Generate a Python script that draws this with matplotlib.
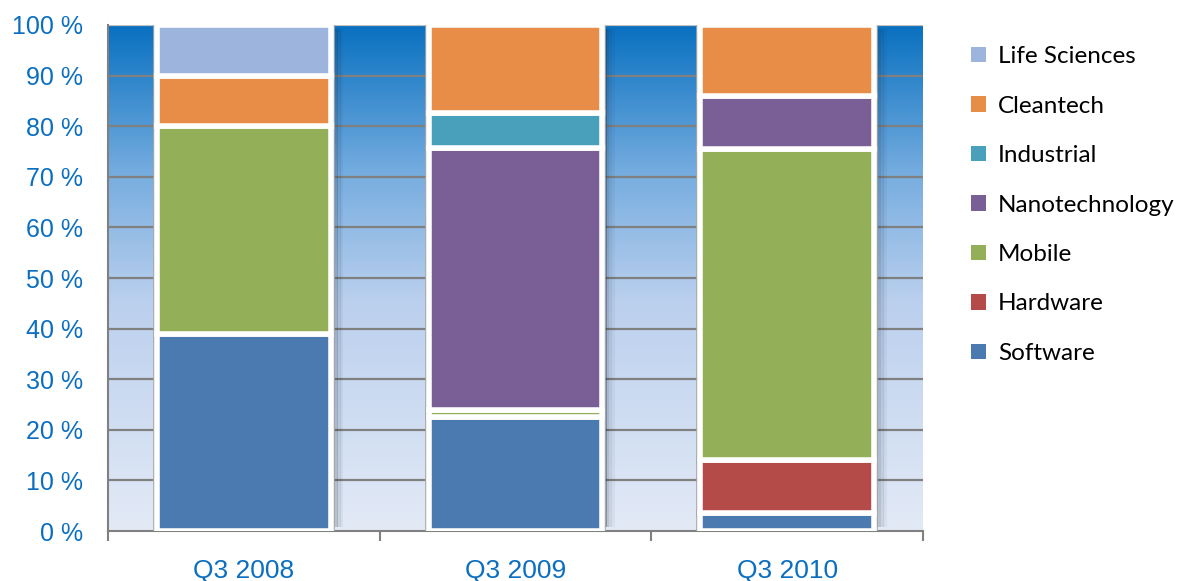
import numpy as np
import matplotlib
matplotlib.use("Agg")
import matplotlib.pyplot as plt
from matplotlib.colors import LinearSegmentedColormap
from matplotlib.patches import Patch

quarters = ["Q3 2008", "Q3 2009", "Q3 2010"]
sectors = ["Software", "Hardware", "Mobile", "Nanotechnology", "Industrial", "Cleantech", "Life Sciences"]
software = [39, 22.5, 3.5]
hardware = [0, 0, 10.5]
mobile = [41, 1.5, 61.5]
nanotech = [0, 51.7, 10.5]
industrial = [0, 7, 0]
cleantech = [10, 17.3, 14]
life_sciences = [10, 0, 0]
shares = [software, hardware, mobile, nanotech, industrial, cleantech, life_sciences]
colors = ["#4A7AB0", "#B54B48", "#93AF57", "#7A5F97", "#48A0BB", "#E88D47", "#9DB4DC"]

fig = plt.figure(figsize=(11.88, 5.81), dpi=100)
ax = fig.add_axes([0.0909, 0.086, 0.686, 0.871])
ax.set_xlim(-0.5, 2.5)
ax.set_ylim(0, 100)

# background gradient
bg = LinearSegmentedColormap.from_list("bg", [(0, "#E3EAF6"), (0.45, "#BBD0EE"), (0.7, "#78AEE0"), (1.0, "#0870C0")])
grad = np.linspace(0, 1, 256).reshape(-1, 1)
ax.imshow(grad, cmap=bg, aspect="auto", extent=[-0.5, 2.5, 0, 100], origin="lower", zorder=0)

for yv in range(10, 100, 10):
    ax.axhline(yv, color="#808080", lw=1.6, zorder=1)
ax.axhline(100, color="#C0C0C0", lw=1.6, zorder=1)

x = np.arange(len(quarters))
width = 0.64
totals = np.zeros(len(quarters))
for vals in shares:
    totals += np.array(vals)

# shadow on the right side of each bar
for i in range(len(quarters)):
    for k, a in enumerate([0.32, 0.2, 0.11, 0.05]):
        ax.bar(x[i] + width / 2 + 0.01 + k * 0.01, totals[i] - 1.5, width=0.012, bottom=0.8,
               color="#1a2a40", alpha=a, lw=0, zorder=2)

bottom = np.zeros(len(quarters))
for vals, c in zip(shares, colors):
    vals = np.array(vals, dtype=float)
    mask = vals > 0
    ax.bar(x[mask], vals[mask], width=width, bottom=bottom[mask], color=c,
           edgecolor="#A8A8A8", linewidth=5.5, zorder=3)
    ax.bar(x[mask], vals[mask], width=width, bottom=bottom[mask], color=c,
           edgecolor="white", linewidth=4, zorder=4)
    bottom += vals

ax.set_yticks(range(0, 101, 10))
ax.set_yticklabels([f"{v} %" for v in range(0, 101, 10)])
ax.set_xticks(x)
ax.set_xticklabels(quarters)
ax.set_xticks([-0.5, 0.5, 1.5, 2.5], minor=True)
ax.tick_params(axis="x", which="major", length=0, pad=20)
ax.tick_params(axis="x", which="minor", length=7, color="#808080", width=1.5)
ax.tick_params(axis="y", length=0, pad=18)
for lab in ax.get_xticklabels():
    lab.set_fontfamily("Liberation Sans")
    lab.set_fontsize(19)
    lab.set_color("#0A6FC0")
for lab in ax.get_yticklabels():
    lab.set_fontfamily("Liberation Sans")
    lab.set_fontsize(18)
    lab.set_color("#0A6FC0")

for s in ["top", "right"]:
    ax.spines[s].set_visible(False)
ax.spines["left"].set_color("#808080")
ax.spines["left"].set_linewidth(1.5)
ax.spines["bottom"].set_color("#808080")
ax.spines["bottom"].set_linewidth(1.5)

handles = [Patch(facecolor=c, edgecolor="none", label=s) for s, c in zip(sectors, colors)]
leg = fig.legend(handles[::-1], sectors[::-1], loc="upper left", bbox_to_anchor=(0.799, 0.958),
                 frameon=False, prop={"family": "Lato", "size": 17.5}, labelspacing=1.17,
                 handlelength=0.6, handleheight=0.6, handletextpad=0.5)

fig.savefig("out.png", dpi=100)
